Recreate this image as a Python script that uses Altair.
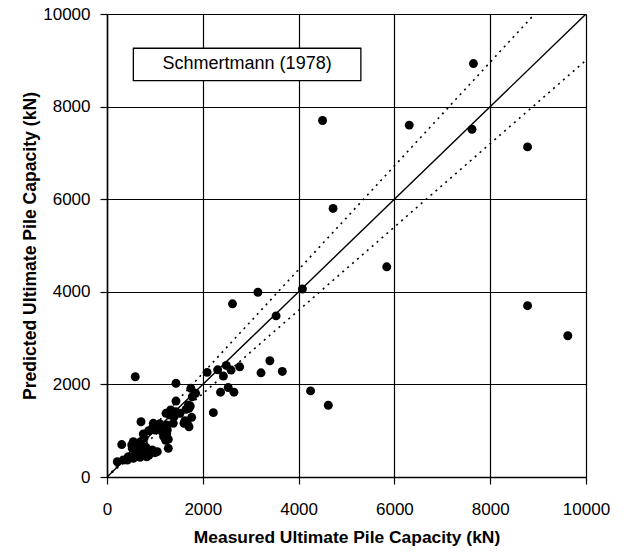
import altair as alt
import pandas as pd

# ---- data ----
measured = [7650, 4500, 6310, 7620, 8780, 4720, 5840, 8780, 9620, 4080,
            3150, 2620, 3530, 3400, 3660, 3215, 4250, 4620, 2090, 2310,
            2490, 2590, 2770, 2430, 1750, 1850, 2370, 2530, 2650, 2220,
            590, 1440, 1440, 1700, 1650, 1768, 1524, 1628, 1676, 1232,
            1315, 1399, 1384, 1246, 1142, 967, 710, 1002, 758, 1246,
            1280, 1280, 1002, 898, 758, 620, 516, 549, 307, 340,
            445, 549, 689, 829, 689, 620, 814, 1781, 1329, 1434,
            1712, 1607, 1712, 946, 1050, 1154, 1259, 1224, 772, 703,
            528, 946, 1050, 877, 424, 215, 599, 1738,
            800, 1100, 1180, 870, 650]
predicted = [8930, 7700, 7600, 7510, 7130, 5800, 4540, 3700, 3050, 4060,
             3990, 3740, 3480, 2510, 2280, 2250, 1860, 1550, 2260, 2315,
             2410, 2310, 2380, 2180, 1916, 1808, 1832, 1933, 1832, 1390,
             2166, 2023, 1640, 1555, 1462, 1289, 1375, 1216, 1160, 1375,
             1339, 1302, 1160, 1123, 1051, 1160, 1194, 1015, 929, 929,
             814, 620, 525, 547, 512, 475, 691, 762, 700, 367,
             438, 403, 425, 438, 619, 583, 641, 1734, 1447, 1410,
             1484, 1160, 1086, 1051, 1051, 978, 1015, 792, 836, 762,
             620, 583, 547, 475, 367, 330, 475, 1533,
             560, 1150, 880, 1000, 650]

ticks = [0, 2000, 4000, 6000, 8000, 10000]
axis_max = 10000
line_ratios = [1.0, 1.12, 0.9]
line_styles = ["solid", "dotted", "dotted"]
box_label = "Schmertmann (1978)"
box_x = [550, 5300]
box_y = [8560, 9260]

x_title = "Measured Ultimate Pile Capacity (kN)"
y_title = "Predicted Ultimate Pile Capacity (kN)"

FONT = "Liberation Sans"
W, H = 479, 463

pts = pd.DataFrame({"m": measured, "p": predicted})

# reference lines through origin, clipped to the plot range
rows = []
for r, s in zip(line_ratios, line_styles):
    x_end = min(axis_max, axis_max / r)
    rows.append({"name": f"r{r}", "style": s, "m": 0, "p": 0})
    rows.append({"name": f"r{r}", "style": s, "m": x_end, "p": x_end * r})
lines = pd.DataFrame(rows)

xscale = alt.Scale(domain=[0, axis_max], nice=False, zero=True)
yscale = alt.Scale(domain=[0, axis_max], nice=False, zero=True)

xaxis = alt.Axis(values=ticks, grid=True, gridColor="black", gridOpacity=1,
                 gridWidth=1.2, domainColor="black", domainWidth=1.5,
                 tickColor="black", tickSize=7, tickWidth=1.2,
                 labelFont=FONT, labelFontSize=17, labelColor="black",
                 labelBaseline="middle", labelPadding=25, labelFlush=False,
                 labelOverlap=False, format="d",
                 title=x_title, titleFont=FONT, titleFontSize=17.4,
                 titleFontWeight="bold", titleColor="black",
                 titleX=W / 2, titleY=60, titleBaseline="middle",
                 titleAlign="center")
yaxis = alt.Axis(values=ticks, grid=True, gridColor="black", gridOpacity=1,
                 gridWidth=1.2, domainColor="black", domainWidth=1.5,
                 tickColor="black", tickSize=7, tickWidth=1.2,
                 labelFont=FONT, labelFontSize=17, labelColor="black",
                 labelPadding=10, labelFlush=False, labelOverlap=False,
                 format="d",
                 title=y_title, titleFont=FONT, titleFontSize=17.6,
                 titleFontWeight="bold", titleColor="black",
                 titleX=-77, titleY=H / 2, titleBaseline="middle",
                 titleAlign="center", titleAngle=-90)

base_pts = alt.Chart(pts).mark_circle(size=80, color="black", opacity=1).encode(
    x=alt.X("m:Q", scale=xscale, axis=xaxis),
    y=alt.Y("p:Q", scale=yscale, axis=yaxis),
)

solid = alt.Chart(lines[lines["style"] == "solid"]).mark_line(
    color="black", strokeWidth=1.4, clip=True).encode(
    x=alt.X("m:Q", scale=xscale), y=alt.Y("p:Q", scale=yscale),
    detail="name:N")

dotted = alt.Chart(lines[lines["style"] == "dotted"]).mark_line(
    color="black", strokeWidth=1.6, strokeDash=[2, 4.5], clip=True).encode(
    x=alt.X("m:Q", scale=xscale), y=alt.Y("p:Q", scale=yscale),
    detail="name:N")

box_df = pd.DataFrame({"x": [box_x[0]], "x2": [box_x[1]],
                       "y": [box_y[0]], "y2": [box_y[1]],
                       "tx": [sum(box_x) / 2], "ty": [sum(box_y) / 2],
                       "label": [box_label]})

box = alt.Chart(box_df).mark_rect(fill="white", stroke="black",
                                  strokeWidth=1.3).encode(
    x=alt.X("x:Q", scale=xscale), x2="x2:Q",
    y=alt.Y("y:Q", scale=yscale), y2="y2:Q")

box_text = alt.Chart(box_df).mark_text(font=FONT, fontSize=18, color="black",
                                       align="center", baseline="middle").encode(
    x=alt.X("tx:Q", scale=xscale), y=alt.Y("ty:Q", scale=yscale),
    text="label:N")

chart = alt.layer(solid, dotted, base_pts, box, box_text).properties(
    width=W, height=H,
    autosize=alt.AutoSizeParams(type="none"),
    padding={"left": 107, "top": 14, "right": 40, "bottom": 76},
).configure_view(stroke="black", strokeWidth=1.5).configure(background="white")

chart.save("out.html", embed_options={"renderer": "svg", "actions": False})
